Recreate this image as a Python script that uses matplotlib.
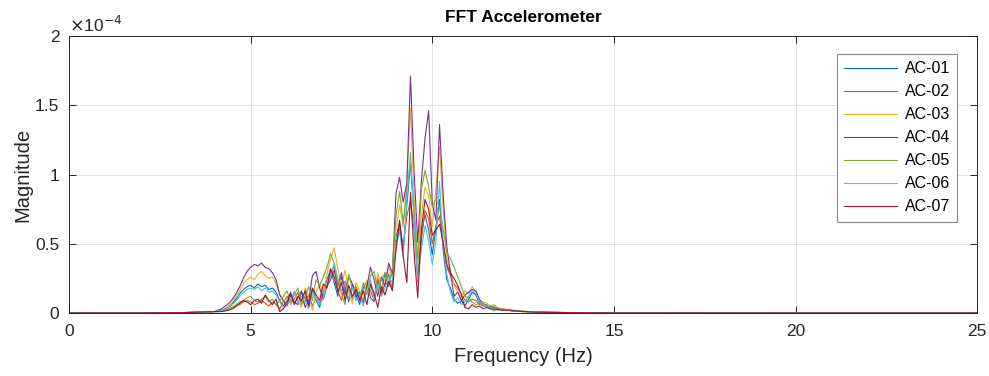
import numpy as np
import matplotlib
matplotlib.use('Agg')
import matplotlib.pyplot as plt

plt.rcParams['font.family'] = ['Liberation Sans', 'DejaVu Sans']

# frequency grid (Hz): sparse low/high tails + 0.1 Hz band where the energy is
freq_low = [0.0, 1.0, 2.0, 3.0, 3.5]
freq_band = list(np.round(np.arange(4.0, 13.01, 0.1), 1))
freq_high = [14.0, 15.0, 20.0, 25.0]
freq = freq_low + freq_band + freq_high

# magnitudes in units of 1e-5
tail_low = [0.0, 0.01, 0.01, 0.02, 0.05]
tail_high = [0.02, 0.01, 0.0, 0.0]

ac01 = [0.1, 0.15, 0.2, 0.3, 0.5, 0.7, 1.0, 1.4, 1.7, 1.9,
        2.0, 1.8, 2.1, 1.9, 2.0, 1.7, 1.8, 1.5, 0.9, 0.5,
        0.9, 1.4, 0.8, 0.6, 1.5, 1.1, 0.5, 1.7, 0.9, 0.4,
        1.6, 2.4, 3.1, 2.2, 1.2, 2.6, 1.9, 0.8, 2.1, 1.4,
        0.6, 1.8, 2.3, 1.1, 0.8, 2.4, 1.5, 2.9, 1.9, 3.1,
        5.5, 6.5, 4.6, 7.8, 10.8, 7.0, 2.8, 5.8, 7.1, 6.0,
        4.2, 6.1, 8.2, 4.5, 2.4, 1.8, 1.0, 0.7, 0.9, 0.5,
        1.0, 1.5, 1.3, 0.7, 0.5, 0.6, 0.3, 0.4, 0.2, 0.3,
        0.25, 0.2, 0.2, 0.15, 0.15, 0.12, 0.1, 0.1, 0.08, 0.06, 0.05]
ac02 = [0.1, 0.1, 0.15, 0.2, 0.3, 0.4, 0.5, 0.6, 0.8, 0.9,
        0.8, 0.6, 0.7, 0.9, 0.7, 0.5, 0.8, 0.6, 0.3, 0.8,
        1.2, 0.7, 1.0, 1.5, 0.6, 0.9, 1.3, 0.5, 1.1, 0.7,
        1.3, 2.0, 2.8, 3.4, 1.6, 0.9, 2.3, 1.7, 1.0, 1.9,
        1.2, 0.7, 2.0, 1.6, 0.9, 2.5, 1.3, 2.2, 2.8, 1.7,
        5.0, 6.1, 4.9, 7.0, 8.1, 6.0, 2.5, 5.2, 7.4, 6.8,
        5.0, 6.3, 7.0, 4.8, 3.3, 2.7, 2.1, 1.8, 1.4, 0.9,
        0.8, 1.0, 0.9, 0.6, 0.7, 0.5, 0.4, 0.3, 0.4, 0.2,
        0.2, 0.25, 0.2, 0.15, 0.12, 0.12, 0.1, 0.08, 0.08, 0.06, 0.05]
ac03 = [0.1, 0.15, 0.2, 0.3, 0.5, 0.8, 1.2, 1.6, 2.1, 2.4,
        2.6, 2.4, 2.8, 3.0, 2.7, 2.5, 2.6, 2.1, 1.4, 0.8,
        1.1, 0.6, 1.6, 0.9, 0.4, 1.8, 1.2, 0.2, 1.5, 2.1,
        1.4, 2.8, 3.9, 4.7, 3.2, 2.0, 3.1, 1.5, 0.7, 2.2,
        1.6, 0.9, 2.4, 2.0, 1.1, 2.9, 1.8, 2.5, 3.3, 2.6,
        6.0, 7.8, 6.2, 9.5, 14.8, 8.3, 3.2, 7.0, 9.1, 8.5,
        6.2, 9.0, 12.0, 7.5, 4.0, 3.0, 2.0, 1.5, 1.1, 1.6,
        1.4, 1.9, 1.5, 0.9, 0.8, 0.7, 0.5, 0.6, 0.4, 0.3,
        0.3, 0.25, 0.2, 0.2, 0.15, 0.15, 0.12, 0.1, 0.1, 0.08, 0.06]
ac04 = [0.1, 0.2, 0.3, 0.5, 0.7, 1.0, 1.4, 1.9, 2.5, 3.0,
        3.3, 3.5, 3.4, 3.6, 3.3, 3.2, 2.9, 2.4, 1.3, 0.9,
        0.5, 1.3, 0.7, 1.1, 1.6, 0.4, 0.9, 2.7, 3.0, 1.8,
        1.0, 1.9, 2.4, 3.1, 2.0, 2.9, 1.3, 2.7, 2.1, 1.1,
        1.5, 0.7, 1.9, 3.3, 2.4, 1.2, 2.6, 1.9, 3.6, 2.8,
        8.6, 9.8, 8.0, 9.4, 17.1, 10.2, 5.1, 9.5, 12.6, 14.6,
        7.9, 6.7, 13.6, 8.5, 4.8, 2.9, 1.2, 1.5, 0.9, 1.3,
        1.5, 1.7, 1.6, 1.0, 0.6, 0.4, 0.5, 0.3, 0.3, 0.2,
        0.2, 0.2, 0.15, 0.15, 0.12, 0.1, 0.1, 0.08, 0.06, 0.05, 0.05]
ac05 = [0.1, 0.1, 0.15, 0.2, 0.3, 0.4, 0.6, 0.8, 0.9, 1.1,
        1.2, 0.9, 0.8, 1.0, 1.2, 0.8, 1.0, 0.6, 0.9, 1.2,
        1.6, 0.8, 1.3, 1.8, 0.7, 1.2, 1.9, 0.9, 2.4, 2.0,
        2.6, 3.3, 4.3, 3.6, 2.1, 1.4, 0.6, 2.8, 1.7, 1.9,
        1.0, 2.2, 1.3, 2.7, 3.0, 1.6, 2.4, 2.9, 2.0, 3.2,
        7.0, 8.8, 6.5, 8.8, 11.0, 7.2, 3.9, 8.9, 10.3, 9.1,
        7.7, 8.2, 7.7, 6.0, 4.4, 3.9, 3.3, 2.6, 1.9, 1.2,
        1.1, 0.8, 0.6, 0.7, 0.6, 0.5, 0.4, 0.5, 0.3, 0.3,
        0.25, 0.2, 0.2, 0.15, 0.15, 0.12, 0.1, 0.1, 0.08, 0.06, 0.05]
ac06 = [0.1, 0.15, 0.2, 0.3, 0.4, 0.6, 0.9, 1.2, 1.5, 1.7,
        1.8, 1.7, 1.9, 1.6, 1.8, 1.5, 1.6, 1.3, 0.8, 0.4,
        0.6, 1.0, 1.5, 0.7, 1.2, 0.8, 0.3, 1.4, 1.1, 0.6,
        1.1, 2.0, 2.7, 3.6, 2.5, 1.6, 2.2, 1.0, 1.8, 0.9,
        1.4, 0.5, 1.7, 2.4, 1.0, 2.1, 1.2, 1.8, 2.6, 2.2,
        4.8, 5.9, 4.0, 8.2, 11.6, 6.5, 2.2, 4.6, 6.3, 5.2,
        3.5, 5.2, 9.5, 5.0, 2.8, 1.5, 0.8, 1.1, 0.6, 0.8,
        1.2, 1.6, 1.4, 0.8, 0.6, 0.5, 0.4, 0.3, 0.3, 0.2,
        0.2, 0.2, 0.15, 0.15, 0.12, 0.1, 0.1, 0.08, 0.06, 0.05, 0.05]
ac07 = [0.1, 0.1, 0.1, 0.15, 0.2, 0.3, 0.5, 0.7, 0.9, 0.8,
        0.6, 0.9, 1.0, 0.7, 1.3, 0.9, 0.6, 1.0, 0.1, 0.3,
        0.7, 1.5, 0.6, 1.2, 0.9, 1.6, 0.5, 1.8, 1.3, 0.9,
        2.1, 1.8, 3.2, 2.6, 1.5, 2.2, 0.9, 2.0, 1.2, 1.7,
        0.9, 1.6, 0.6, 2.1, 1.4, 0.4, 1.9, 1.3, 2.3, 1.6,
        4.5, 6.7, 4.1, 2.2, 8.7, 4.3, 1.1, 6.0, 8.2, 7.5,
        5.6, 6.0, 6.4, 5.1, 3.5, 2.9, 2.5, 2.0, 1.3, 0.4,
        0.3, 0.6, 0.4, 0.5, 0.3, 0.4, 0.3, 0.2, 0.3, 0.2,
        0.2, 0.2, 0.15, 0.15, 0.12, 0.1, 0.1, 0.08, 0.06, 0.05, 0.05]

labels = ['AC-01', 'AC-02', 'AC-03', 'AC-04', 'AC-05', 'AC-06', 'AC-07']
series = [ac01, ac02, ac03, ac04, ac05, ac06, ac07]
colors = ['#0072BD', '#D95319', '#EDB120', '#7E2F8E', '#77AC30', '#4DBEEE', '#A2142F']

axc = '#262626'
fig = plt.figure(figsize=(9.89, 3.76), dpi=100)
ax = fig.add_axes([0.0698, 0.1676, 0.9182, 0.7366])

for lab, s, c in zip(labels, series, colors):
    mag = np.array(tail_low + s + tail_high) * 1e-5
    ax.plot(freq, mag, color=c, linewidth=0.8, label=lab)

ax.set_xlim(0, 25)
ax.set_ylim(0, 2e-4)
ax.set_xticks([0, 5, 10, 15, 20, 25])
ax.set_yticks([0, 0.5e-4, 1e-4, 1.5e-4, 2e-4])
ax.set_yticklabels(['0', '0.5', '1', '1.5', '2'])
ax.grid(True, color='#dedede', linewidth=0.6)
ax.tick_params(direction='in', top=True, right=True, labelsize=12.5,
               colors=axc, length=5, width=0.7)
ax.tick_params(axis='x', pad=8)
ax.tick_params(axis='y', pad=7)
for sp in ax.spines.values():
    sp.set_color(axc)
    sp.set_linewidth(0.7)

ax.set_xlabel('Frequency (Hz)', fontsize=14.5, color=axc, labelpad=6)
ax.set_ylabel('Magnitude', fontsize=14.5, color=axc, labelpad=2)
ax.set_title('FFT Accelerometer', fontsize=12.5, fontweight='bold', color='black', pad=10)
ax.text(0.0, 1.005, r'$\times$10$^{-4}$', transform=ax.transAxes, fontsize=12.5,
        color=axc, ha='left', va='bottom')

leg = ax.legend(loc='upper right', bbox_to_anchor=(0.978, 0.934), fontsize=11.5,
                fancybox=False, framealpha=1, edgecolor='#8c8c8c',
                handlelength=3.3, handletextpad=0.5, labelspacing=0.5,
                borderpad=0.45, borderaxespad=0)
leg.get_frame().set_linewidth(0.8)

fig.savefig('out.png', dpi=100)
